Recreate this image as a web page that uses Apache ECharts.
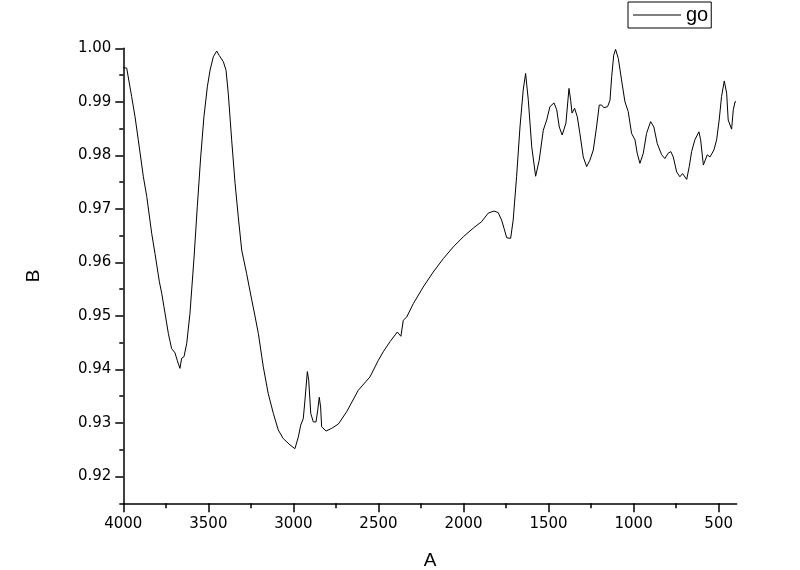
<!DOCTYPE html>
<html>
<head>
<meta charset="utf-8">
<script src="https://cdn.jsdelivr.net/npm/echarts@6/dist/echarts.min.js"></script>
<style>html,body{margin:0;padding:0;background:#fff}#c{width:800px;height:570px}</style>
</head>
<body>
<div id="c"></div>
<script>
const seriesName = 'go';
const xName = 'A';
const yName = 'B';
const wavenumber = [4000,3980,3951,3931,3912,3882,3862,3833,3814,3788,3774,3761,3735,3716,3696,3683,3667,3657,3643,3627,3608,3584,3565,3545,3526,3506,3490,3471,3451,3437,3412,3396,3383,3363,3343,3324,3304,3275,3245,
3226,3206,3177,3148,3118,3089,3060,3020,2991,2971,2957,2942,2932,2918,2910,2898,2883,2867,2857,2848,2840,2834,2808,2775,2736,2687,2619,2550,2501,2472,2432,
2389,2368,2354,2334,2295,2237,2178,2119,2060,2001,1943,1894,1855,1821,1796,1776,1762,1746,1723,1708,1688,1668,1649,1635,1619,1599,1576,1555,
1531,1511,1492,1468,1452,1437,1420,1398,1380,1370,1362,1347,1331,1316,1296,1276,1257,1237,1218,1202,1188,1175,1153,1139,1129,1117,1106,1090,1071,1051,1032,1012,992,979,963,943,924,900,881,861,835,816,797,781,767,747,728,712,702,688,673,659,640,616,606,590,580,567,551,541,528,512,497,483,467,453,444,434,424,414,404,398];
const transmittance = [.9964,.9963,.9910,.9872,.9829,.9760,.9723,.9654,.9617,.9564,.9542,.9517,.9467,.9439,.9431,.9417,.9402,.9421,.9424,.9449,.9505,.9610,.9704,.9797,.9872,.9928,.9959,.9984,.9995,.9987,.9975,.9959,.9916,.9829,.9748,.9685,.9623,.9579,.9530,
.9500,.9467,.9405,.9355,.9318,.9287,.9271,.9259,.9252,.9274,.9296,.9308,.9343,.9396,.9380,.9318,.9302,.9302,.9324,.9348,.9330,.9293,.9285,.9290,.9298,.9321,.9361,.9386,.9417,.9433,.9452,
.9470,.9462,.9492,.9498,.9523,.9554,.9582,.9607,.9629,.9648,.9664,.9676,.9692,.9696,.9693,.9679,.9664,.9646,.9645,.9679,.9760,.9853,.9922,.9953,.9903,.9816,.9761,.9791,
.9847,.9866,.9891,.9898,.9885,.9853,.9838,.9860,.9925,.9903,.9879,.9888,.9872,.9841,.9797,.9779,.9791,.9810,.9853,.9894,.9894,.9889,.9891,.9903,.9947,.9987,.9998,.9981,.9941,.9900,.9882,.9841,.9829,.9804,.9785,.9804,.9841,.9863,.9853,.9822,.9801,.9794,.9804,.9807,.9797,.9769,.9760,.9766,.9767,.9755,.9779,.9807,.9829,.9844,.9829,.9782,.9785,.9801,.9797,.9794,.9810,.9829,.9866,.9910,.9939,.9916,.9866,.9863,.9849,.9885,.9900,.9900];
const xMajorTicks = [4000,3500,3000,2500,2000,1500,1000,500];
const xMinorTicks = [3750,3250,2750,2250,1750,1250,750];
const yMajorTicks = [0.92,0.93,0.94,0.95,0.96,0.97,0.98,0.99,1.00];
const yMinorTicks = [0.915,0.925,0.935,0.945,0.955,0.965,0.975,0.985,0.995];

const XMIN = 394, XMAX = 4000, YMIN = 0.915, YMAX = 1.0;
const points = wavenumber.map((x, i) => [x, transmittance[i]]);
const axisColor = '#000';
const lblFont = 'DejaVu Sans';

const chart = echarts.init(document.getElementById('c'), null, {renderer: 'canvas'});
chart.setOption({
  animation: false,
  backgroundColor: '#fff',
  grid: {left: 123.3, right: 63.3, top: 48.3, bottom: 66.7, containLabel: false, outerBoundsMode: 'none'},
  legend: {
    data: [{name: seriesName, icon: 'rect'}], left: 628, top: 2, orient: 'horizontal',
    padding: [3, 3, 3, 5], itemWidth: 48, itemHeight: 1,
    itemStyle: {color: '#000', borderWidth: 0},
    borderColor: '#000', borderWidth: 1, borderRadius: 0,
    textStyle: {fontSize: 20, fontFamily: 'Liberation Sans', color: '#000', lineHeight: 20}
  },
  xAxis: [
    {type: 'value', inverse: true, min: XMIN, max: XMAX, position: 'bottom',
     name: xName, nameLocation: 'middle', nameGap: 48,
     nameTextStyle: {fontSize: 19, fontFamily: 'Liberation Sans', color: '#000'},
     axisLine: {show: true, onZero: false, lineStyle: {color: axisColor, width: 1.5}},
     axisTick: {show: true, length: 9, lineStyle: {color: axisColor, width: 1.5}, customValues: xMajorTicks},
     axisLabel: {show: true, customValues: xMajorTicks, margin: 13, fontSize: 15, fontFamily: lblFont, color: '#000',
       formatter: v => String(v)},
     splitLine: {show: false}},
    {type: 'value', inverse: true, min: XMIN, max: XMAX, position: 'bottom',
     axisLine: {show: false, onZero: false},
     axisTick: {show: true, length: 5, lineStyle: {color: axisColor, width: 1.5}, customValues: xMinorTicks},
     axisLabel: {show: false},
     splitLine: {show: false}}
  ],
  yAxis: [
    {type: 'value', min: YMIN, max: YMAX, position: 'left',
     name: yName, nameLocation: 'middle', nameGap: 80, nameRotate: 90,
     nameTextStyle: {fontSize: 19, fontFamily: 'Liberation Sans', color: '#000'},
     axisLine: {show: true, onZero: false, lineStyle: {color: axisColor, width: 1.5}},
     axisTick: {show: true, length: 8, lineStyle: {color: axisColor, width: 1.5}, customValues: yMajorTicks},
     axisLabel: {show: true, customValues: yMajorTicks, margin: 12, fontSize: 15, fontFamily: lblFont, color: '#000',
       formatter: v => v.toFixed(2)},
     splitLine: {show: false}},
    {type: 'value', min: YMIN, max: YMAX, position: 'left',
     axisLine: {show: false, onZero: false},
     axisTick: {show: true, length: 4, lineStyle: {color: axisColor, width: 1.5}, customValues: yMinorTicks},
     axisLabel: {show: false},
     splitLine: {show: false}}
  ],
  series: [{
    name: seriesName, type: 'line', xAxisIndex: 0, yAxisIndex: 0,
    data: points, symbol: 'none', showSymbol: false, smooth: false,
    lineStyle: {color: '#000', width: 1}, itemStyle: {color: '#000'}
  }]
});
</script>
</body>
</html>
